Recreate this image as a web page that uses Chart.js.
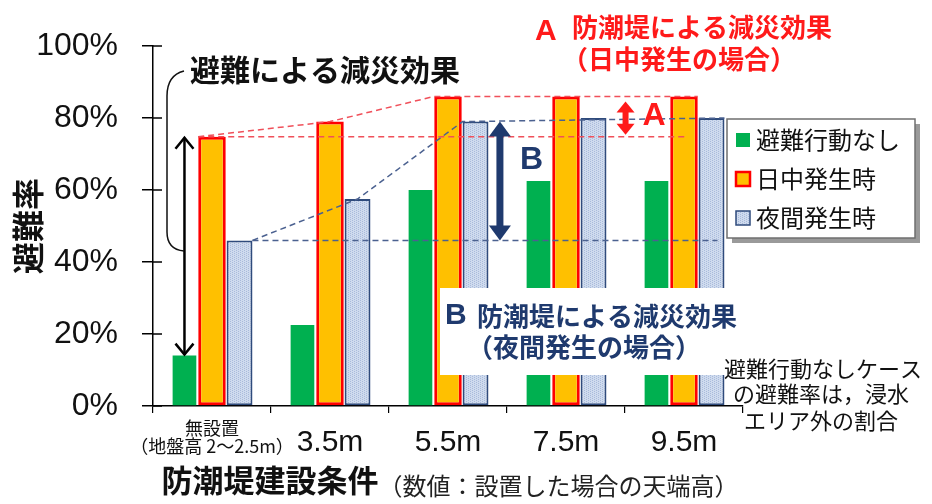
<!DOCTYPE html>
<html>
<head>
<meta charset="utf-8">
<script src="https://cdn.jsdelivr.net/npm/chart.js@4.4.1/dist/chart.umd.min.js"></script>
<style>
  html, body { margin: 0; padding: 0; background: #fff; }
</style>
</head>
<body>
<canvas id="myChart" width="932" height="504"></canvas>
<script>
const categories = [['無設置', '（地盤高 2〜2.5m）'], '3.5m', '5.5m', '7.5m', '9.5m'];
const seriesNames = ['避難行動なし', '日中発生時', '夜間発生時'];
const noAction = [14, 22.5, 60, 62.5, 62.5];
const daytime = [74.8, 79, 86, 86, 86];
const nighttime = [46, 57.5, 79, 80, 80];
const yTicks = [0, 20, 40, 60, 80, 100];

const JP = '"Noto Sans CJK JP", sans-serif';
const LAT = '"Liberation Sans", "Noto Sans CJK JP", sans-serif';
const RED = '#ff1a1a';
const NAVY = '#1f3a6e';

const ctx = document.getElementById('myChart');
const c2d = ctx.getContext('2d');

// dotted light-blue fill used for the night bars
function dotPattern() {
    const c = document.createElement('canvas');
    c.width = 4;
    c.height = 4;
    const p = c.getContext('2d');
    p.fillStyle = '#cfdbee';
    p.fillRect(0, 0, 4, 4);
    p.fillStyle = '#a9badb';
    p.fillRect(0, 0, 1, 1);
    p.fillRect(2, 1, 1, 1);
    p.fillRect(0, 2, 1, 1);
    p.fillRect(2, 3, 1, 1);
    return c2d.createPattern(c, 'repeat');
}
const nightFill = dotPattern();

function solidArrow(c, x, y1, y2, color, shaft, headW, headH) {
    c.fillStyle = color;
    c.fillRect(x - shaft / 2, y1 + headH - 1, shaft, y2 - y1 - 2 * headH + 2);
    c.beginPath();
    c.moveTo(x, y1);
    c.lineTo(x + headW / 2, y1 + headH);
    c.lineTo(x - headW / 2, y1 + headH);
    c.closePath();
    c.fill();
    c.beginPath();
    c.moveTo(x, y2);
    c.lineTo(x + headW / 2, y2 - headH);
    c.lineTo(x - headW / 2, y2 - headH);
    c.closePath();
    c.fill();
}

function openArrow(c, x, y1, y2) {
    c.strokeStyle = '#000';
    c.lineWidth = 2.5;
    c.beginPath();
    c.moveTo(x, y1 + 1);
    c.lineTo(x, y2 - 1);
    c.stroke();
    c.beginPath();
    c.moveTo(x - 9, y1 + 12);
    c.lineTo(x, y1 + 1);
    c.lineTo(x + 9, y1 + 12);
    c.stroke();
    c.beginPath();
    c.moveTo(x - 9, y2 - 12);
    c.lineTo(x, y2 - 1);
    c.lineTo(x + 9, y2 - 12);
    c.stroke();
}

const annotations = {
    id: 'annotations',
    afterDraw(chart) {
        const c = chart.ctx;
        const { x, y } = chart.scales;
        const g = chart.getDatasetMeta(0).data;
        const o = chart.getDatasetMeta(1).data;
        const b = chart.getDatasetMeta(2).data;
        const L = bar => bar.x - bar.width / 2;
        const R = bar => bar.x + bar.width / 2;
        c.save();

        // tick stubs inside the plot on the y axis
        c.strokeStyle = '#000';
        c.lineWidth = 1.5;
        yTicks.forEach(v => {
            const py = y.getPixelForValue(v);
            c.beginPath();
            c.moveTo(x.left, py);
            c.lineTo(x.left + 9, py);
            c.stroke();
        });

        // dashed guide lines
        c.lineWidth = 1.5;
        c.setLineDash([6, 4]);
        c.strokeStyle = '#f0505a';
        c.beginPath();
        c.moveTo(L(o[0]), o[0].y);
        c.lineTo(o[4].x + 3, o[0].y);
        c.stroke();
        c.beginPath();
        c.moveTo(L(o[0]), o[0].y);
        c.lineTo(o[1].x, o[1].y);
        c.lineTo(L(o[2]), o[2].y);
        c.lineTo(R(o[4]), o[4].y);
        c.stroke();

        c.strokeStyle = '#4b6190';
        c.beginPath();
        c.moveTo(R(b[0]), b[0].y);
        c.lineTo(b[4].x + 6, b[0].y);
        c.stroke();
        c.beginPath();
        c.moveTo(R(b[0]), b[0].y);
        c.lineTo(b[1].x, b[1].y);
        c.lineTo(L(b[2]), b[2].y);
        c.lineTo(R(b[4]), b[4].y);
        c.stroke();
        c.setLineDash([]);

        // arrows
        openArrow(c, g[0].x, o[0].y, g[0].y);
        const bx = R(b[2]) + 0.3 * (L(g[3]) - R(b[2]));
        solidArrow(c, bx, b[2].y, b[0].y, NAVY, 7, 22, 15);
        const ax = (R(b[3]) + L(g[4])) / 2;
        solidArrow(c, ax, o[3].y + 5, o[0].y - 2, RED, 6, 18, 11);

        c.textBaseline = 'middle';
        c.textAlign = 'left';
        c.fillStyle = RED;
        c.font = 'bold 32px ' + LAT;
        c.fillText('A', ax + 17, (o[3].y + o[0].y) / 2);
        c.fillStyle = NAVY;
        c.fillText('B', bx + 20, 160);

        // brace + caption for the evacuation effect
        c.strokeStyle = '#111';
        c.lineWidth = 1.5;
        c.beginPath();
        c.moveTo(184, 71);
        c.bezierCurveTo(172, 74, 167, 82, 167, 96);
        c.lineTo(167, 232);
        c.bezierCurveTo(167, 244, 173, 250, 184, 251);
        c.stroke();
        c.fillStyle = '#111';
        c.font = 'bold 30px ' + JP;
        c.fillText('避難による減災効果', 190, 70);

        // A caption
        c.fillStyle = RED;
        c.font = 'bold 30px ' + LAT;
        c.fillText('A', 535, 32);
        c.font = 'bold 26px ' + JP;
        c.fillText('防潮堤による減災効果', 572, 27);
        c.fillText('（日中発生の場合）', 562, 59);

        // B caption on a white box
        c.fillStyle = '#fff';
        c.fillRect(440, 288, 308, 87);
        c.fillStyle = NAVY;
        c.font = 'bold 30px ' + LAT;
        c.fillText('B', 445, 316);
        c.font = 'bold 26px ' + JP;
        c.fillText('防潮堤による減災効果', 477, 316);
        c.fillText('（夜間発生の場合）', 467, 347);

        // note
        c.fillStyle = '#111';
        c.font = '22px ' + JP;
        c.textAlign = 'center';
        c.fillText('避難行動なしケース', 823, 369);
        c.fillText('の避難率は，浸水', 821, 394);
        c.fillText('エリア外の割合', 821, 421);

        // rest of the x title
        c.textAlign = 'left';
        c.font = 'bold 31px ' + LAT;
        const tw = c.measureText(x.options.title.text).width;
        c.font = '24px ' + JP;
        c.fillStyle = '#222';
        c.fillText('（数値：設置した場合の天端高）', x.left + tw, 486);

        // legend
        const lx = 727, ly = 119, lw = 188, lh = 119;
        c.fillStyle = '#9a9a9a';
        c.fillRect(lx + 5, ly + 5, lw, lh);
        c.fillStyle = '#fff';
        c.fillRect(lx, ly, lw, lh);
        c.strokeStyle = '#6f6f6f';
        c.lineWidth = 1.5;
        c.strokeRect(lx, ly, lw, lh);
        const rows = [140, 179, 218];
        chart.data.datasets.forEach((ds, i) => {
            const ry = rows[i];
            c.fillStyle = ds.backgroundColor;
            c.fillRect(lx + 9, ry - 7, 14, 14);
            if (ds.borderWidth) {
                c.strokeStyle = ds.borderColor;
                c.lineWidth = i === 1 ? 2.5 : 1.5;
                c.strokeRect(lx + 9, ry - 7, 14, 14);
            }
            c.fillStyle = '#111';
            c.font = '24px ' + JP;
            c.fillText(ds.label, lx + 29, ry);
        });

        c.restore();
    }
};

const data = {
    labels: categories,
    datasets: [{
        label: seriesNames[0],
        data: noAction,
        backgroundColor: '#00b050',
        borderWidth: 0,
        barPercentage: 0.86
    }, {
        label: seriesNames[1],
        data: daytime,
        backgroundColor: '#ffc000',
        borderColor: '#ff0000',
        borderWidth: 3,
        borderSkipped: false,
        barPercentage: 1.0
    }, {
        label: seriesNames[2],
        data: nighttime,
        backgroundColor: nightFill,
        borderColor: '#2f4b7c',
        borderWidth: 2,
        borderSkipped: false,
        barPercentage: 0.94
    }]
};

const config = {
    type: 'bar',
    data: data,
    options: {
        responsive: false,
        animation: false,
        devicePixelRatio: 1,
        categoryPercentage: 0.7,
        layout: { padding: { top: 46, right: 189, bottom: 0, left: 0 } },
        plugins: {
            legend: { display: false },
            tooltip: { enabled: false }
        },
        scales: {
            x: {
                grid: { drawOnChartArea: false, tickLength: 7, color: '#000', lineWidth: 1.2, offset: true },
                border: { color: '#000', width: 1.5 },
                ticks: {
                    color: '#111',
                    padding: 6,
                    maxRotation: 0,
                    autoSkip: false,
                    font: c => c.index === 0
                        ? { family: JP, size: 18, lineHeight: 1.0 }
                        : { family: LAT, size: 30, lineHeight: 1.57 }
                },
                title: {
                    display: true,
                    text: ' 防潮堤建設条件',
                    align: 'start',
                    color: '#111',
                    font: { family: LAT, size: 31, weight: 'bold', lineHeight: 1.2 },
                    padding: { top: 0, bottom: 2 }
                },
                afterFit: s => { s.height = 98; }
            },
            y: {
                min: 0,
                max: 100,
                afterBuildTicks: s => { s.ticks = yTicks.map(v => ({ value: v })); },
                ticks: {
                    padding: 24,
                    color: '#111',
                    font: { family: LAT, size: 32 },
                    callback: v => v + '%'
                },
                grid: { drawOnChartArea: false, tickLength: 11, color: '#000', lineWidth: 1.5 },
                border: { color: '#000', width: 1.5 },
                title: {
                    display: true,
                    text: '避難率',
                    color: '#111',
                    font: { family: JP, size: 32, weight: 'bold', lineHeight: 1.2 },
                    padding: { top: 9, bottom: 0 }
                },
                afterFit: s => { s.width = 153; }
            }
        }
    },
    plugins: [annotations]
};

const chart = new Chart(ctx, config);
</script>
</body>
</html>
